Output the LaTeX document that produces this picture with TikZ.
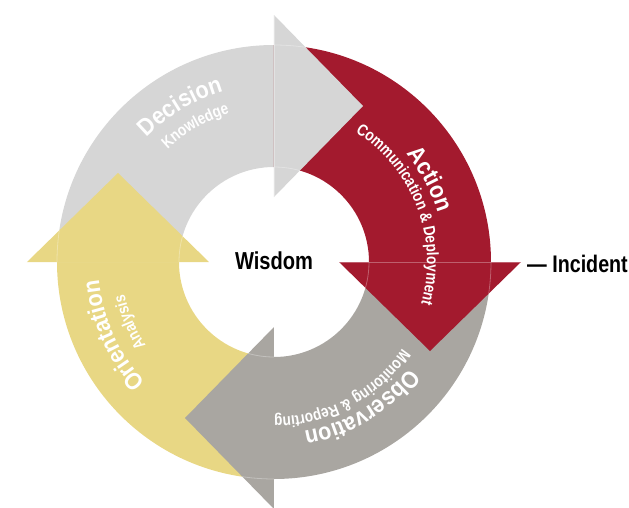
\documentclass[tikz,border=0pt]{standalone}
\usepackage{fontspec}
\usetikzlibrary{decorations.text}
\newfontfamily\condfont[FakeStretch=0.82]{Liberation Sans}
\newfontfamily\widefont[FakeStretch=0.9]{Liberation Sans}
\definecolor{decgray}{HTML}{D6D6D6}
\definecolor{actred}{HTML}{A31A2E}
\definecolor{obsgray}{HTML}{A9A6A1}
\definecolor{oriyellow}{HTML}{E8D784}
\newcommand{\bigfont}{\widefont\bfseries\fontsize{24}{26}\selectfont}
\newcommand{\smallfont}{\condfont\bfseries\fontsize{16.5}{18}\selectfont}

\begin{document}
\begin{tikzpicture}[x=1pt,y=1pt]
        \tikzstyle{every node}+=[inner sep=0pt]
        \tikzstyle{arctext}=[decorate, decoration={text along path, text align=center, text color=white}]
        \tikzstyle{seam}=[white, opacity=.3, line width=.8pt]
        \useasboundingbox (-274,-245) rectangle (355,262);
        % ring quarters, clockwise
        \foreach \a/\c in {180/decgray,90/actred,0/obsgray,-90/oriyellow}
          \fill[\c] (\a:217pt) arc[start angle=\a, end angle=\a-90, radius=217pt]
            -- (\a-90:95pt) arc[start angle=\a-90, end angle=\a, radius=95pt] -- cycle;
        % arrow heads
        \foreach \a/\c in {90/decgray,0/actred,-90/obsgray,180/oriyellow}
          \fill[\c, rotate=\a] (65,0) -- (247,0) -- (156,-89) -- cycle;
        % faint seams through the heads
        \foreach \a in {90,0,-90,180} {
          \begin{scope}
            \clip[rotate=\a] (65,0) -- (247,0) -- (156,-89) -- cycle;
            \draw[seam, rotate=\a] (60,0) -- (252,0);
            \draw[seam] (0,0) circle[radius=95pt] (0,0) circle[radius=217pt];
          \end{scope}}
        % labels along the ring
        \path[arctext, decoration={text={|\bigfont|Decision}}] (181:178pt) arc[start angle=181, end angle=61, radius=178pt];
        \path[arctext, decoration={text={|\smallfont|Knowledge}}] (180:155pt) arc[start angle=180, end angle=60, radius=155pt];
        \path[arctext, decoration={text={|\bigfont|Action}}] (88:171pt) arc[start angle=88, end angle=-32, radius=171pt];
        \path[arctext, decoration={text={|\smallfont|Communication {\&} Deployment}}] (81:153pt) arc[start angle=81, end angle=-39, radius=153pt];
        \path[arctext, decoration={text={|\bigfont|Observation}}] (1:172pt) arc[start angle=1, end angle=-119, radius=172pt];
        \path[arctext, decoration={text={|\smallfont|Monitoring {\&} Reporting}}] (-2:155pt) arc[start angle=-2, end angle=-122, radius=155pt];
        \path[arctext, decoration={text={|\bigfont|Orientation}}] (264.6:176pt) arc[start angle=264.6, end angle=144.6, radius=176pt];
        \path[arctext, decoration={text={|\smallfont|Analysis}}] (262.7:153pt) arc[start angle=262.7, end angle=142.7, radius=153pt];
        % centre and side label
        \node (wisdom) at (0,1) {\condfont\bfseries\fontsize{24.5}{26}\selectfont Wisdom};
        \node[anchor=west] (incident) at (253,-1.5) {\condfont\bfseries\fontsize{24}{26}\selectfont — Incident};
\end{tikzpicture}
\end{document}
